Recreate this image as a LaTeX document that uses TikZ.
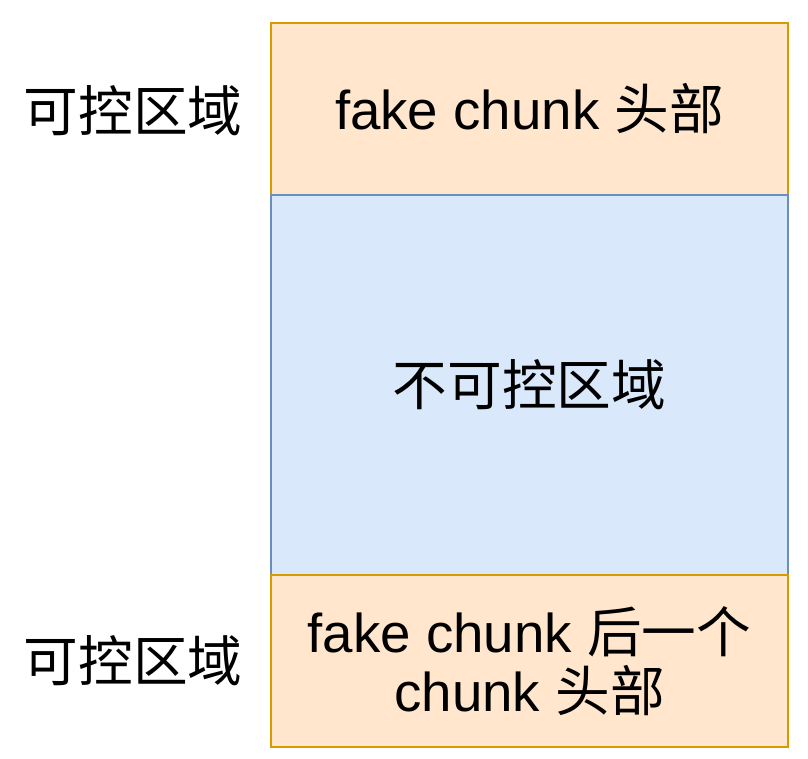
\documentclass[tikz,border=0pt]{standalone}
\usepackage{fontspec}
\setmainfont{Liberation Sans}
\newfontfamily\cjk{Noto Sans CJK SC}
\usetikzlibrary{positioning}
\definecolor{ctrlfill}{RGB}{255,230,204}
\definecolor{ctrldraw}{RGB}{215,155,0}
\definecolor{freefill}{RGB}{218,232,252}
\definecolor{freedraw}{RGB}{108,142,191}

\tikzset{
  ctrlbox/.style={draw=ctrldraw, fill=ctrlfill, line width=1.8pt, minimum width=388pt, minimum height=129pt, outer sep=0pt, inner sep=0pt, align=center},
  freebox/.style={draw=freedraw, fill=freefill, line width=1.8pt, minimum width=388pt, minimum height=285pt, outer sep=0pt, inner sep=0pt, align=center},
  sidelabel/.style={inner sep=0pt}
}

\begin{document}
\begin{tikzpicture}[x=0.75pt,y=0.75pt,yscale=-1,xscale=1,font=\fontsize{41}{44}\selectfont]
\useasboundingbox (0,0) rectangle (808,758);

% boxes
\node [ctrlbox] (head) at (529.5,109) {fake chunk {\cjk 头部}};
\node [freebox, below=0pt of head] (middle) {\cjk 不可控区域};
\node [ctrlbox, below=0pt of middle] (next) {fake chunk {\cjk 后一个}\\chunk {\cjk 头部}};

% labels
\node [sidelabel, left=21pt of head, yshift=-1.5pt] (headlabel) {\cjk 可控区域};
\node [sidelabel, left=21pt of next] (nextlabel) {\cjk 可控区域};

\end{tikzpicture}
\end{document}
